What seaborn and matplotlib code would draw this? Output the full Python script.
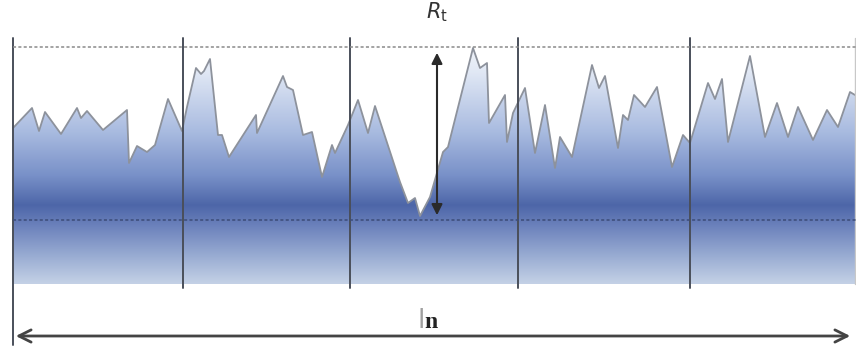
import numpy as np
import matplotlib
matplotlib.use("Agg")
import matplotlib.pyplot as plt
import seaborn as sns
from matplotlib.colors import LinearSegmentedColormap

sns.set_theme(style="white")

# profilo di rugosità: posizione lungo l_n e altezza sopra la base
profile_x = [13, 32, 39, 45, 61, 77, 81, 87, 103, 127, 129, 137, 147, 155, 168, 182, 187, 196,
             201, 204, 210, 218, 222, 229, 256, 257, 283, 287, 293, 303, 312, 322, 332, 335,
             348, 358, 368, 375, 397, 400, 408, 415, 420, 430, 443, 448, 473, 480, 487, 489,
             505, 507, 513, 525, 535, 545, 555, 560, 572, 592, 599, 605, 618, 623, 628, 634,
             645, 657, 672, 683, 690, 708, 715, 722, 728, 750, 765, 777, 788, 798, 813, 827,
             838, 850, 855]
profile_h = [156, 176, 153, 172, 150, 176, 166, 173, 154, 174, 121, 138, 132, 139, 185, 153, 177, 216,
             210, 213, 225, 149, 149, 127, 169, 151, 208, 197, 194, 149, 152, 107, 139, 131,
             159, 184, 151, 178, 111, 102, 81, 86, 68, 87, 132, 137, 236, 216, 221, 161,
             189, 142, 171, 196, 131, 179, 116, 147, 127, 219, 196, 208, 136, 169, 164, 189,
             177, 197, 117, 149, 141, 201, 185, 205, 142, 228, 147, 181, 147, 177, 144, 174,
             157, 192, 189]

# linee di campionamento e livelli di riferimento
section_x = [13, 183, 350, 518, 690]
peak_level = 237
valley_level = 64
rt_x = 437
ln_start, ln_end = 13, 853

fig = plt.figure(figsize=(8.56, 3.5), dpi=100)
ax = fig.add_axes([0, 0, 1, 1])
ax.set_xlim(0, 856)
ax.set_ylim(-66, 284)
ax.axis("off")

# riempimento con gradiente verticale, ritagliato sul profilo
stops = [(0.0, "#c4d1e6"), (0.11, "#9aadd3"), (0.24, "#6a80bb"), (0.32, "#4d66a8"),
         (0.44, "#7890c8"), (0.62, "#a9bbe0"), (0.87, "#e2e9f5"), (1.0, "#f6f8fc")]
cmap = LinearSegmentedColormap.from_list("rug", stops)
fill = ax.fill_between(profile_x, 0, profile_h, color="none", lw=0)
grad = np.linspace(0, 1, 256).reshape(-1, 1)
im = ax.imshow(grad, cmap=cmap, origin="lower", aspect="auto",
               extent=[13, 856, 0, 246], zorder=1)
im.set_clip_path(fill.get_paths()[0], transform=ax.transData)
ax.set_xlim(0, 856)
ax.set_ylim(-66, 284)

sns.lineplot(x=profile_x, y=profile_h, sort=False, estimator=None, ax=ax,
             color="#8d929c", lw=1.3, zorder=3)

# linee verticali delle sezioni
for i, sx in enumerate(section_x):
    lo = -61 if i == 0 else -4
    ax.plot([sx, sx], [lo, 246], color="#4a4f5a", lw=1.4, zorder=4)
ax.plot([855, 855], [0, 246], color="#c8c8c8", lw=1.0, zorder=4)

# livelli picco / valle
ax.plot([13, 856], [peak_level, peak_level], color="#8a8a8a", lw=1.1, ls=(0, (2, 1.5)), zorder=4)
ax.plot([13, 856], [valley_level, valley_level], color="#3c4c78", lw=1.1, ls=(0, (2, 1.5)), zorder=4)

# freccia Rt
ax.annotate("", xy=(rt_x, valley_level + 2), xytext=(rt_x, peak_level - 3),
            arrowprops=dict(arrowstyle="<|-|>", color="#2a2a2a", lw=1.5, mutation_scale=16),
            zorder=5)
ax.text(rt_x, 272, r"$R_\mathrm{t}$", ha="center", va="center", fontsize=15, color="#333333")

# freccia lunghezza di valutazione
ax.annotate("", xy=(ln_end, -52), xytext=(ln_start, -52),
            arrowprops=dict(arrowstyle="<->", color="#444444", lw=2, mutation_scale=22))
ax.text(421, -44, "l", ha="center", va="baseline", fontsize=19, color="#a0a0a0",
        family="DejaVu Sans")
ax.text(431, -44, "n", ha="center", va="baseline", fontsize=17, color="#222222",
        family="Liberation Serif", weight="bold")

fig.savefig("out.png", dpi=100, facecolor="white")
